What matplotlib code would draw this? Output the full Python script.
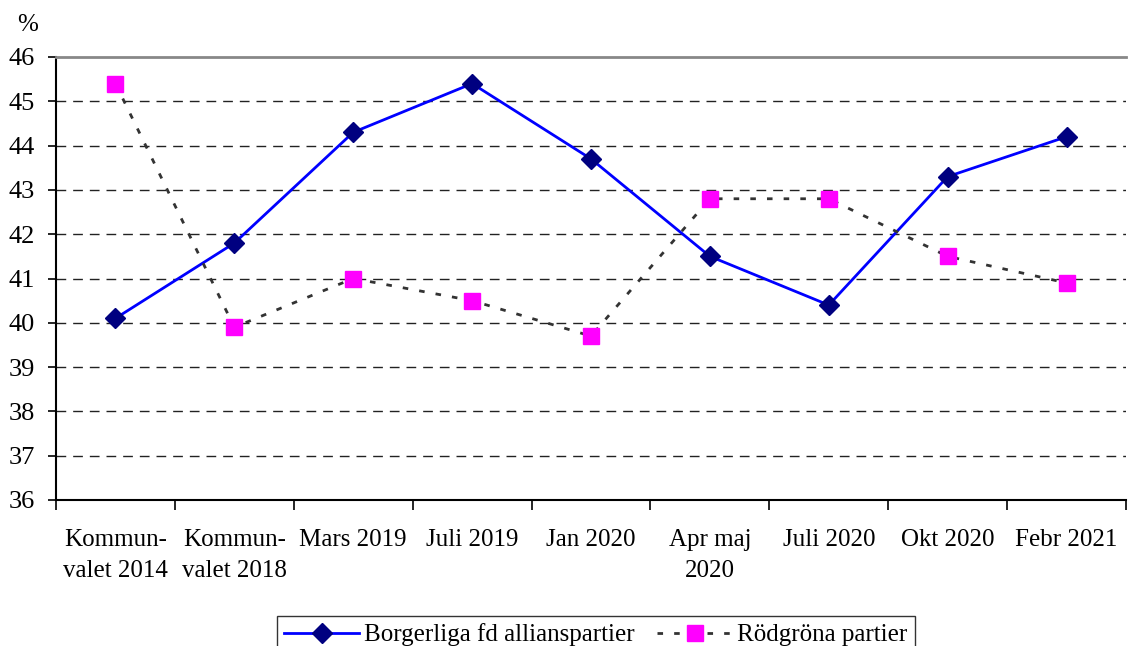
import matplotlib
matplotlib.use("Agg")
import matplotlib.pyplot as plt
import numpy as np

categories = ["Kommun-\nvalet 2014", "Kommun-\nvalet 2018", "Mars 2019", "Juli 2019",
              "Jan 2020", "Apr maj\n2020", "Juli 2020", "Okt 2020", "Febr 2021"]
borgerliga = [40.1, 41.8, 44.3, 45.4, 43.7, 41.5, 40.4, 43.3, 44.2]
rodgrona = [45.4, 39.9, 41.0, 40.5, 39.7, 42.8, 42.8, 41.5, 40.9]
yticks = list(range(36, 47))

plt.rcParams['font.family'] = ['Liberation Serif', 'DejaVu Serif']
FS = 18

W, H = 1128, 646
fig = plt.figure(figsize=(W / 100, H / 100), dpi=100)
ax = fig.add_axes([56 / W, 1 - 500 / H, (1126 - 56) / W, (500 - 57) / H])

x = np.arange(len(categories))
ax.plot(x, borgerliga, color='#0000FF', lw=2, marker='D', ms=10,
        markerfacecolor='#000080', markeredgecolor='#000080',
        label='Borgerliga fd allianspartier', zorder=3)
ax.plot(x, rodgrona, color='#333333', lw=2, ls=(0, (2, 4)), marker='s', ms=11,
        markerfacecolor='#FF00FF', markeredgecolor='#FF00FF',
        label='Rödgröna partier', zorder=3)

ax.set_xlim(-0.5, len(categories) - 0.5)
ax.set_ylim(36, 46)
ax.set_yticks(yticks)
ax.set_yticklabels([str(v) for v in yticks], fontsize=19)
ax.set_xticks(np.arange(len(categories) + 1) - 0.5)
ax.set_xticklabels([])
ax.set_xticks(x, minor=True)
ax.set_xticklabels(categories, minor=True, fontsize=FS, linespacing=1.5)
ax.tick_params(axis='x', which='minor', length=0, pad=21)
ax.tick_params(axis='x', which='major', length=7, width=1.2, direction='out')
ax.tick_params(axis='y', length=6, width=1.2, direction='out', pad=9)

for v in yticks[1:-1]:
    ax.axhline(v, color='#222222', lw=1, ls=(0, (7, 5)), zorder=1)

for s in ['left', 'bottom']:
    ax.spines[s].set_linewidth(1.5)
    ax.spines[s].set_color('black')
ax.spines['top'].set_color('#888888')
ax.spines['top'].set_linewidth(2)
ax.spines['right'].set_visible(False)

fig.text(17 / W, 1 - 25 / H, '%', fontsize=FS, va='center')

leg = fig.legend(loc='upper center', bbox_to_anchor=(596 / W, 1 - 616 / H), ncol=2,
                 fontsize=FS, frameon=True, fancybox=False, edgecolor='black',
                 handlelength=3.0, columnspacing=0.9, handletextpad=0.2,
                 borderpad=0.3, borderaxespad=0)
leg.get_frame().set_linewidth(1)

fig.savefig('out.png', dpi=100)
